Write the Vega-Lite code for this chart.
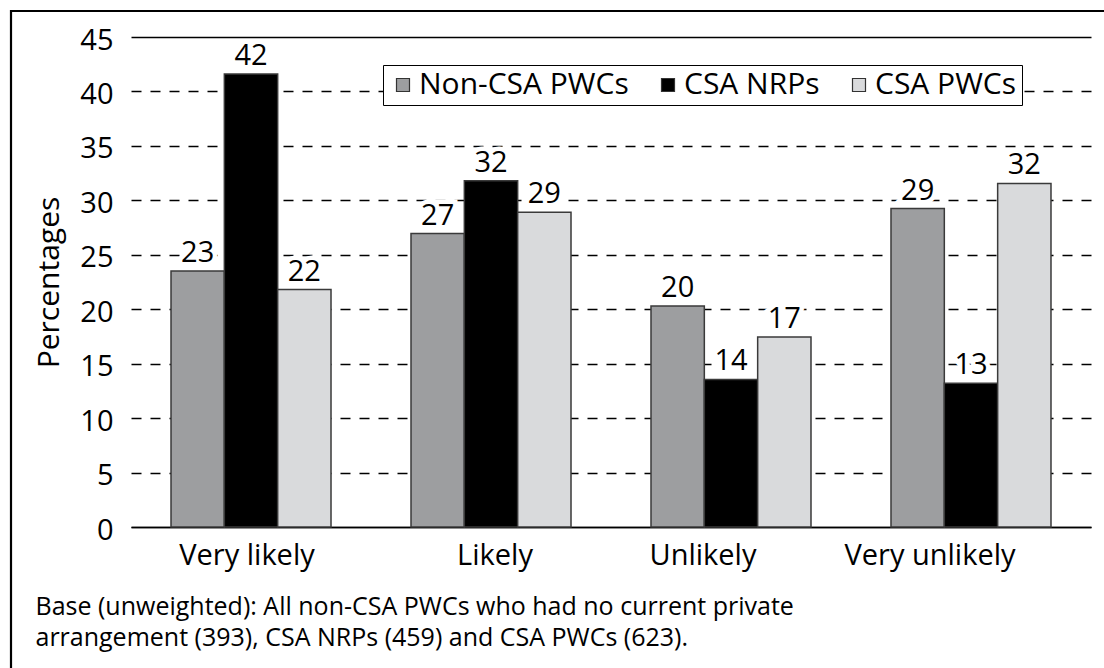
{
  "$schema": "https://vega.github.io/schema/vega-lite/v6.json",
  "width": 960,
  "height": 490,
  "autosize": {"type": "none"},
  "padding": {"left": 131, "top": 37, "right": 13, "bottom": 141},
  "background": "white",
  "config": {"font": "Open Sans", "view": {"stroke": null}},
  "data": {
    "values": [
      {"response": "Very likely", "group": "Non-CSA PWCs", "value": 23.5, "label": "23"},
      {"response": "Very likely", "group": "CSA NRPs", "value": 41.6, "label": "42"},
      {"response": "Very likely", "group": "CSA PWCs", "value": 21.8, "label": "22"},
      {"response": "Likely", "group": "Non-CSA PWCs", "value": 26.95, "label": "27"},
      {"response": "Likely", "group": "CSA NRPs", "value": 31.8, "label": "32"},
      {"response": "Likely", "group": "CSA PWCs", "value": 28.9, "label": "29"},
      {"response": "Unlikely", "group": "Non-CSA PWCs", "value": 20.3, "label": "20"},
      {"response": "Unlikely", "group": "CSA NRPs", "value": 13.55, "label": "14"},
      {"response": "Unlikely", "group": "CSA PWCs", "value": 17.45, "label": "17"},
      {"response": "Very unlikely", "group": "Non-CSA PWCs", "value": 29.25, "label": "29"},
      {"response": "Very unlikely", "group": "CSA NRPs", "value": 13.2, "label": "13"},
      {"response": "Very unlikely", "group": "CSA PWCs", "value": 31.55, "label": "32"}
    ]
  },
  "layer": [
    {
      "mark": {"type": "bar", "stroke": "#3a3a3a", "strokeWidth": 1.5},
      "encoding": {
        "x": {
          "field": "response", "type": "nominal",
          "sort": ["Very likely", "Likely", "Unlikely", "Very unlikely"],
          "scale": {"paddingInner": 0.3333, "paddingOuter": 0.1667},
          "axis": {
            "title": ["Base (unweighted): All non-CSA PWCs who had no current private", "arrangement (393), CSA NRPs (459) and CSA PWCs (623)."],
            "titleFontSize": 25,
            "titleFontWeight": "normal",
            "titleColor": "black",
            "titleAlign": "left",
            "titleAngle": 0,
            "titleBaseline": "top",
            "titleLineHeight": 31,
            "titleX": -96,
            "titleY": 67,
            "ticks": false,
            "domainColor": "black",
            "domainWidth": 1.5,
            "labelAngle": 0,
            "labelFontSize": 29,
            "labelColor": "black",
            "labelPadding": 14,
            "labelOffset": {
              "condition": [
                {"test": "datum.value === 'Unlikely'", "value": -28},
                {"test": "datum.value === 'Very unlikely'", "value": -41},
                {"test": "datum.value === 'Very likely'", "value": -4}
              ],
              "value": 4
            }
          }
        },
        "xOffset": {
          "field": "group", "type": "nominal",
          "sort": ["Non-CSA PWCs", "CSA NRPs", "CSA PWCs"],
          "scale": {"paddingInner": 0, "paddingOuter": 0}
        },
        "y": {
          "field": "value", "type": "quantitative",
          "scale": {"domain": [0, 45], "nice": false},
          "axis": {
            "title": "Percentages",
            "titleFontSize": 30,
            "titleFontWeight": "normal",
            "titleColor": "black",
            "titlePadding": 15,
            "values": [0, 5, 10, 15, 20, 25, 30, 35, 40, 45],
            "ticks": false,
            "domain": false,
            "grid": true,
            "gridColor": "black",
            "gridWidth": 1.3,
            "gridDash": {"condition": {"test": "datum.value === 45 || datum.value === 0", "value": []}, "value": [10, 9]},
            "labelFontSize": 29,
            "labelColor": "black",
            "labelPadding": 18,
            "labelOffset": 3
          }
        },
        "color": {
          "field": "group", "type": "nominal",
          "sort": ["Non-CSA PWCs", "CSA NRPs", "CSA PWCs"],
          "scale": {"domain": ["Non-CSA PWCs", "CSA NRPs", "CSA PWCs"], "range": ["#9d9ea0", "#000000", "#d9dadc"]},
          "legend": {
            "title": null,
            "orient": "none",
            "legendX": 252,
            "legendY": 28,
            "direction": "horizontal",
            "fillColor": "white",
            "strokeColor": "black",
            "padding": 5,
            "symbolType": "square",
            "symbolSize": 169,
            "symbolStrokeColor": "#333333",
            "symbolStrokeWidth": 1.2,
            "symbolOpacity": 1,
            "labelFontSize": 30,
            "labelColor": "black",
            "labelLimit": 0,
            "labelOffset": 1,
            "columnPadding": 24,
            "zindex": 2
          }
        }
      }
    },
    {
      "mark": {"type": "text", "baseline": "alphabetic", "dy": -9, "fontSize": 29, "stroke": "white", "strokeWidth": 9, "fill": "white"},
      "encoding": {
        "x": {"field": "response", "type": "nominal", "sort": ["Very likely", "Likely", "Unlikely", "Very unlikely"]},
        "xOffset": {"field": "group", "type": "nominal", "sort": ["Non-CSA PWCs", "CSA NRPs", "CSA PWCs"]},
        "y": {"field": "value", "type": "quantitative"},
        "text": {"field": "label"}
      }
    },
    {
      "mark": {"type": "text", "baseline": "alphabetic", "dy": -9, "fontSize": 29, "fill": "black"},
      "encoding": {
        "x": {"field": "response", "type": "nominal", "sort": ["Very likely", "Likely", "Unlikely", "Very unlikely"]},
        "xOffset": {"field": "group", "type": "nominal", "sort": ["Non-CSA PWCs", "CSA NRPs", "CSA PWCs"]},
        "y": {"field": "value", "type": "quantitative"},
        "text": {"field": "label"}
      }
    },
    {
      "data": {"values": [{}]},
      "mark": {"type": "rect", "fill": null, "stroke": "black", "strokeWidth": 2.2, "clip": false},
      "encoding": {
        "x": {"value": -120},
        "x2": {"value": 1100},
        "y": {"value": -26},
        "y2": {"value": 800}
      }
    }
  ]
}
